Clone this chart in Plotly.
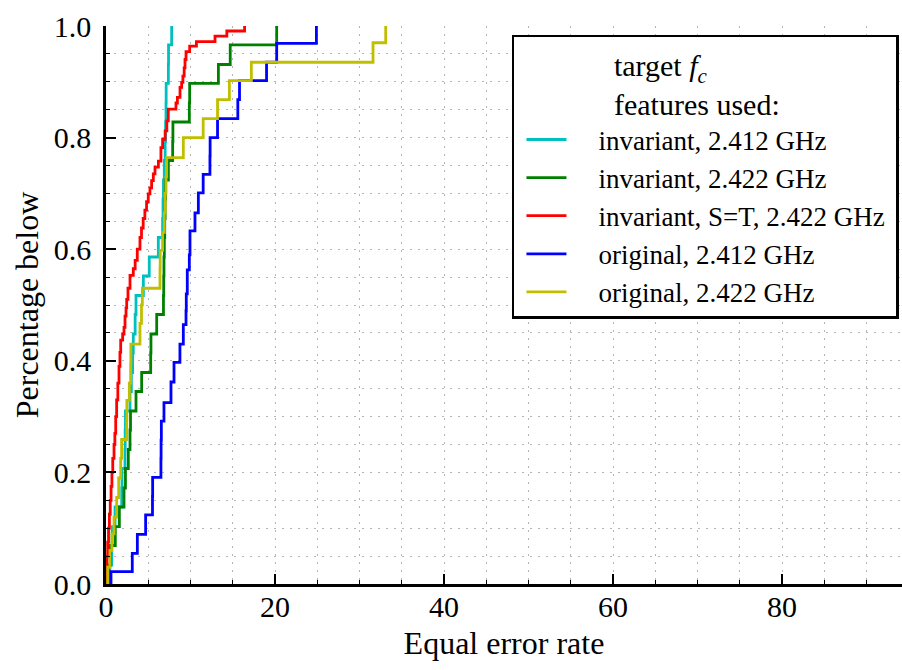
import plotly.graph_objects as go

# ---- data (ECDF step points) ----
cyan_x = [0.45, 0.67, 0.72, 1.07, 1.86, 1.9, 2.25, 2.27, 2.3, 2.84, 3.0, 3.15, 3.23, 3.45, 3.55,
          4.42, 5.12, 6.19, 6.7, 6.75, 6.8, 6.9, 7.0, 7.05, 7.1, 7.12, 7.38, 7.4, 7.77]
cyan_y = [0.034, 0.069, 0.103, 0.138, 0.172, 0.207, 0.241, 0.276, 0.310, 0.345, 0.379, 0.414, 0.448,
          0.483, 0.517, 0.552, 0.586, 0.621, 0.655, 0.690, 0.724, 0.759, 0.793, 0.828, 0.862, 0.897,
          0.931, 0.966, 1.0]

green_x = [0.3, 0.5, 1.1, 1.58, 2.13, 2.3, 2.64, 2.84, 2.9, 3.55, 4.22, 5.29, 5.32, 6.0, 6.8, 6.83,
           6.86, 6.9, 6.95, 7.0, 7.05, 7.38, 7.89, 7.92, 9.86, 9.9, 13.3, 14.7, 20.2]
green_y = [0.034, 0.069, 0.103, 0.138, 0.172, 0.207, 0.241, 0.276, 0.310, 0.345, 0.379, 0.414, 0.448,
           0.483, 0.517, 0.552, 0.586, 0.621, 0.655, 0.690, 0.724, 0.759, 0.793, 0.828, 0.862, 0.897,
           0.931, 0.966, 1.0]

red_x = [0.05, 0.12, 0.2, 0.3, 0.4, 0.5, 0.6, 0.7, 0.8, 0.95, 1.05, 1.15, 1.26, 1.4, 1.54, 1.65, 1.74,
         1.97, 2.13, 2.25, 2.37, 2.45, 2.6, 2.84, 3.23, 3.45, 3.7, 4.02, 4.2, 4.4, 4.6, 4.8, 5.0, 5.2,
         5.4, 5.6, 5.8, 6.2, 6.5, 6.7, 7.0, 7.2, 7.37, 8.28, 8.45, 8.76, 8.95, 9.1, 9.25, 9.35, 9.47,
         9.9, 10.7, 12.9, 14.3, 16.4]
red_y = [0.025, 0.05, 0.075, 0.1, 0.125, 0.15, 0.175, 0.2, 0.225, 0.25, 0.27, 0.3, 0.33, 0.36, 0.39,
         0.415, 0.437, 0.448, 0.46, 0.48, 0.495, 0.51, 0.53, 0.553, 0.565, 0.58, 0.6, 0.621, 0.638,
         0.655, 0.67, 0.685, 0.699, 0.71, 0.723, 0.735, 0.747, 0.758, 0.782, 0.797, 0.812, 0.83,
         0.851, 0.862, 0.872, 0.89, 0.899, 0.91, 0.925, 0.94, 0.954, 0.964, 0.972, 0.982, 0.991, 1.0]

blue_x = [0.59, 3.11, 3.71, 4.69, 5.5, 5.52, 6.5, 6.52, 6.55, 6.86, 7.69, 8.05, 8.75, 9.15, 9.47, 9.5,
          9.62, 9.86, 9.94, 10.53, 10.93, 11.5, 12.3, 12.32, 13.2, 15.6, 15.8, 19.0, 20.2, 24.9]
blue_y = [0.022, 0.055, 0.089, 0.124, 0.157, 0.191, 0.225, 0.258, 0.292, 0.325, 0.362, 0.397, 0.43,
          0.465, 0.49, 0.52, 0.563, 0.59, 0.633, 0.665, 0.701, 0.734, 0.767, 0.8, 0.834, 0.868, 0.902,
          0.935, 0.969, 1.0]

yellow_x = [0.2, 0.47, 0.7, 0.95, 1.26, 1.5, 1.74, 1.85, 2.45, 2.47, 2.76, 2.92, 2.94, 4.02, 4.2, 4.3,
            6.39, 6.41, 6.7, 6.9, 7.0, 7.1, 7.18, 9.15, 11.5, 13.2, 14.6, 17.2, 31.6, 33.1]
yellow_y = [0.03, 0.06, 0.09, 0.12, 0.155, 0.19, 0.225, 0.259, 0.295, 0.329, 0.36, 0.395, 0.43, 0.467,
            0.5, 0.53, 0.565, 0.598, 0.63, 0.665, 0.7, 0.73, 0.764, 0.8, 0.834, 0.868, 0.902, 0.935,
            0.97, 1.0]

series = [
    ("invariant, 2.412 GHz", cyan_x, cyan_y, "#00bfbf"),
    ("invariant, 2.422 GHz", green_x, green_y, "#008000"),
    ("invariant, S=T, 2.422 GHz", red_x, red_y, "#ff0000"),
    ("original, 2.412 GHz", blue_x, blue_y, "#0000ff"),
    ("original, 2.422 GHz", yellow_x, yellow_y, "#bfbf00"),
]

X_RANGE = [0, 94.2]
X_TICKS = [0, 20, 40, 60, 80]

FONT = "Liberation Serif"
GRID = "#b4b4b4"
pad = "\u00a0" * 4

fig = go.Figure()
for name, xs, ys, col in series:
    fig.add_trace(go.Scatter(
        x=[xs[0]] + xs, y=[0.0] + ys, mode="lines", name=pad + name + "\u00a0",
        line=dict(color=col, width=2.8, shape="hv"),
    ))

tick_style = dict(ticks="inside", ticklen=10, tickwidth=1.5, tickcolor="black")
minor_x = dict(dtick=5, tick0=0, ticks="inside", ticklen=4, tickcolor="black", tickwidth=1.2)
minor_y = dict(dtick=0.05, tick0=0, ticks="inside", ticklen=4, tickcolor="black", tickwidth=1.2)
grid_style = dict(showgrid=True, gridcolor=GRID, gridwidth=1, griddash="2px,6px")

fig.update_layout(
    xaxis=dict(
        range=X_RANGE, tickvals=X_TICKS, showline=True, linecolor="black", linewidth=2.5,
        zeroline=False, automargin=False, ticklabelstandoff=-6,
        tickfont=dict(family=FONT, size=30, color="black"),
        minor=dict(**minor_x, **grid_style), **tick_style, **grid_style,
        title=dict(text="Equal error rate", font=dict(family=FONT, size=32, color="black"),
                   standoff=10),
    ),
    yaxis=dict(
        range=[0, 1], dtick=0.2, tick0=0, tickformat=".1f", showline=True, linecolor="black",
        linewidth=2.5, zeroline=False, automargin=False, ticklabelstandoff=6,
        tickfont=dict(family=FONT, size=30, color="black"),
        minor=dict(**minor_y, **grid_style), **tick_style, **grid_style,
        title=dict(text="Percentage below", font=dict(family=FONT, size=32, color="black"),
                   standoff=6),
    ),
    xaxis2=dict(
        overlaying="x", side="top", matches="x", range=X_RANGE, tickvals=X_TICKS,
        showline=True, linecolor="black", linewidth=2.5, showticklabels=False,
        showgrid=False, zeroline=False, minor=dict(**minor_x, showgrid=False), **tick_style,
    ),
    yaxis2=dict(
        overlaying="y", side="right", matches="y", range=[0, 1], dtick=0.2, tick0=0,
        showline=False, showticklabels=False, showgrid=False, zeroline=False,
        minor=dict(**minor_y, showgrid=False), **tick_style,
    ),
)

nb = "\u00a0" * 13
fig.update_layout(
    width=902, height=670,
    margin=dict(l=106, r=0, t=26, b=86, autoexpand=False),
    plot_bgcolor="white", paper_bgcolor="white",
    font=dict(family=FONT, color="black"),
    legend=dict(
        x=0.51, y=0.984, xanchor="left", yanchor="top",
        bgcolor="white", bordercolor="black", borderwidth=2.5,
        font=dict(family=FONT, size=27, color="black"),
        title=dict(text=nb + "target <i>f</i><sub><i>c</i></sub><br>" + nb + "features used:",
                   font=dict(family=FONT, size=30, color="black"), side="top"),
        itemwidth=40, indentation=7,
    ),
)

fig.write_html("out.html")
